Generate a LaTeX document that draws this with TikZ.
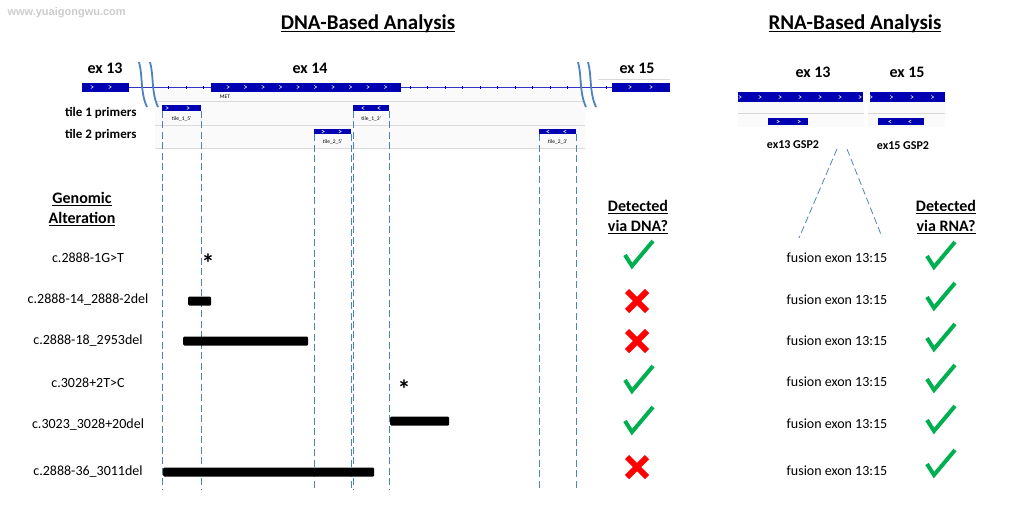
\documentclass[tikz,border=0pt]{standalone}
\usepackage{fontspec}
\setmainfont{Carlito}
\newfontfamily\wmfont{Liberation Sans}
\usepackage{xcolor}
\usepackage{tikz}
\usetikzlibrary{positioning}
\definecolor{igv}{RGB}{0,0,178}
\definecolor{guide}{RGB}{79,129,189}
\definecolor{okgreen}{RGB}{0,176,80}
\definecolor{nored}{RGB}{255,0,0}
\newcommand\hul[1]{\setbox0\hbox{#1}\rlap{\rule[-2.6pt]{\wd0}{1.4pt}}\box0}
\newcommand\fw[2]{\draw[white,line width=0.5pt] (#1-1.2,#2-1.5) -- (#1+1.2,#2) -- (#1-1.2,#2+1.5);}
\newcommand\rv[2]{\draw[white,line width=0.5pt] (#1+1.2,#2-1.5) -- (#1-1.2,#2) -- (#1+1.2,#2+1.5);}

\begin{document}
\begin{tikzpicture}[
  x=1pt,y=-1pt,
  exon/.style={rectangle,fill=igv,inner sep=0pt,minimum height=9pt,anchor=west},
  primer/.style={rectangle,fill=igv,inner sep=0pt,minimum height=5.5pt,anchor=west},
  del/.style={rectangle,fill=black,rounded corners=1.2pt,inner sep=0pt,minimum height=9pt,anchor=west},
  title/.style={font=\bfseries\fontsize{21}{25}\selectfont},
  hdr/.style={font=\bfseries\fontsize{16}{20}\selectfont,align=center},
  exlbl/.style={font=\bfseries\fontsize{16}{19}\selectfont},
  rowlbl/.style={font=\bfseries\fontsize{13}{15}\selectfont,anchor=east},
  tiny/.style={font=\fontsize{5.5}{6}\selectfont,inner sep=1pt},
  alt/.style={font=\fontsize{14}{16}\selectfont},
  star/.style={font=\bfseries\fontsize{26}{26}\selectfont,inner sep=0pt},
  vline/.style={guide,line width=1pt,dash pattern=on 7pt off 3.5pt},
  intron/.style={igv!80,line width=0.5pt},
  brk/.style={guide,line width=1.8pt},
  ok/.style={okgreen,line width=4pt,miter limit=4},
  no/.style={nored,line width=6pt}
]
\useasboundingbox (0,0) rectangle (1015,504);
\node[font=\wmfont\bfseries\fontsize{11}{12}\selectfont,text=gray!40,anchor=west] (wm) at (4,13) {www.yuaigongwu.com};

% titles
\node[title] (dnatitle) at (368,24) {\hul{DNA-Based Analysis}};
\node[title] (rnatitle) at (855,24) {\hul{RNA-Based Analysis}};

% DNA track background
\fill[gray!4] (155,80) rectangle (585,148);
\foreach \yy in {101,125,148}
  \draw[gray!30] (155,\yy) -- (585,\yy);
\draw[gray!30] (598,79) -- (670,79);

% exons and introns
\node[exon,minimum width=47pt] (e13) at (82,87) {};
\node[exon,minimum width=190pt] (e14) at (211,87) {};
\node[exon,minimum width=58pt] (e15) at (612,87) {};
\draw[intron] (e13.east) -- (e14.west);
\draw[intron] (e14.east) -- (e15.west);
\foreach \x in {168,186,203,410,427.5,...,568,606}
  \draw[igv,line width=0.8pt] (\x,85.5) -- (\x,88.5);
\foreach \x in {92,110} {\fw{\x}{87}}
\foreach \x in {228,245.5,...,387} {\fw{\x}{87}}
\foreach \x in {630,651} {\fw{\x}{87}}
\node[tiny] (met) at (225,97) {MET};

% break marks
\draw[brk] (139,62) .. controls (143,76) and (140,92) .. (147,107);
\draw[brk] (150,62) .. controls (154,76) and (151,92) .. (158,107);
\draw[brk] (578,62) .. controls (582,76) and (579,92) .. (586,107);
\draw[brk] (588,62) .. controls (592,76) and (589,92) .. (596,107);

\node[exlbl] (x13) at (105,68) {ex 13};
\node[exlbl] (x14) at (310,68) {ex 14};
\node[exlbl] (x15) at (637,68) {ex 15};

% primers
\node[rowlbl] (tile1) at (140,113) {tile 1 primers};
\node[rowlbl] (tile2) at (140,135) {tile 2 primers};
\node[primer,minimum width=39pt] (t15) at (162,108) {};
\node[primer,minimum width=36pt] (t13) at (353,108) {};
\node[primer,minimum width=37pt] (t25) at (314,131.5) {};
\node[primer,minimum width=37pt] (t23) at (539,131.5) {};
\foreach \x in {167,188} {\fw{\x}{108}}
\foreach \x in {363,379} {\rv{\x}{108}}
\foreach \x in {323,340} {\fw{\x}{131.5}}
\foreach \x in {548,565} {\rv{\x}{131.5}}
\node[tiny,below=4pt of t15] (l15) {tile\_1\_5'};
\node[tiny,below=4pt of t13] (l13) {tile\_1\_3'};
\node[tiny,below=4pt of t25] (l25) {tile\_2\_5'};
\node[tiny,below=4pt of t23] (l23) {tile\_2\_3'};

% guide lines
\coordinate (base) at (0,489);
\foreach \t in {t15,t13,t25,t23} {
  \draw[vline] (\t.south west) -- (\t.south west |- base);
  \draw[vline] (\t.south east) -- (\t.south east |- base);
}

% alterations
\node[hdr] (galt) at (82,209) {\hul{Genomic}\\\hul{Alteration}};
\node[alt] (a1) at (88,258) {c.2888-1G>T};
\node[alt] (a2) at (88,300) {c.2888-14\_2888-2del};
\node[alt] (a3) at (88,341) {c.2888-18\_2953del};
\node[alt] (a4) at (88,383) {c.3028+2T>C};
\node[alt] (a5) at (88,425) {c.3023\_3028+20del};
\node[alt] (a6) at (88,472) {c.2888-36\_3011del};
\node[star] (s1) at (208,263) {*};
\node[star] (s4) at (404,389) {*};
\node[del,minimum width=23pt] (d2) at (188,301) {};
\node[del,minimum width=125pt] (d3) at (183,341) {};
\node[del,minimum width=59pt] (d5) at (390,421) {};
\node[del,minimum width=211pt] (d6) at (163,472) {};

% DNA result
\node[hdr] (dnaq) at (638,217) {\hul{Detected}\\\hul{via DNA?}};
\foreach \yy in {257,382,423}
  \draw[ok] (625,\yy-2) -- (632,\yy+9) -- (653,\yy-16);
\foreach \yy in {301,341,467} {
  \draw[no] (627,\yy-10) -- (647,\yy+10);
  \draw[no] (627,\yy+10) -- (647,\yy-10);
}

% RNA track
\fill[gray!4] (738,102) rectangle (864,127);
\fill[gray!4] (868,102) rectangle (945,127);
\draw[gray!30] (738,113) -- (864,113);
\draw[gray!30] (868,113) -- (945,113);
\node[exon,minimum width=125pt,minimum height=10pt] (r13) at (738,97) {};
\node[exon,minimum width=75pt,minimum height=10pt] (r15) at (870,97) {};
\foreach \x in {740,760,...,861} {\fw{\x}{97}}
\foreach \x in {871,891.5,...,933} {\fw{\x}{97}}
\node[exlbl] (rx13) at (813,72) {ex 13};
\node[exlbl] (rx15) at (907,72) {ex 15};
\node[primer,minimum width=40pt,minimum height=7pt] (g13) at (768,121.5) {};
\node[primer,minimum width=46pt,minimum height=7pt] (g15) at (878,121.5) {};
\foreach \x in {778,799} {\fw{\x}{121.5}}
\foreach \x in {890,910} {\rv{\x}{121.5}}
\node[font=\bfseries\fontsize{12}{14}\selectfont] (gl13) at (793,145) {ex13 GSP2};
\node[font=\bfseries\fontsize{12}{14}\selectfont] (gl15) at (903,146) {ex15 GSP2};
\coordinate (va) at (837,149);
\coordinate (vb) at (799,238);
\coordinate (vc) at (847,149);
\coordinate (vd) at (882,237);
\draw[vline,line width=0.8pt] (va) -- (vb);
\draw[vline,line width=0.8pt] (vc) -- (vd);

\foreach \yy [count=\i] in {258,300,341,382,424,471}
  \node[alt] (fu\i) at (837,\yy) {fusion exon 13:15};

% RNA result
\node[hdr] (rnaq) at (946,217) {\hul{Detected}\\\hul{via RNA?}};
\foreach \yy in {258,299,340,381,422,466}
  \draw[ok] (927,\yy-2) -- (934,\yy+9) -- (955,\yy-16);
\end{tikzpicture}
\end{document}
